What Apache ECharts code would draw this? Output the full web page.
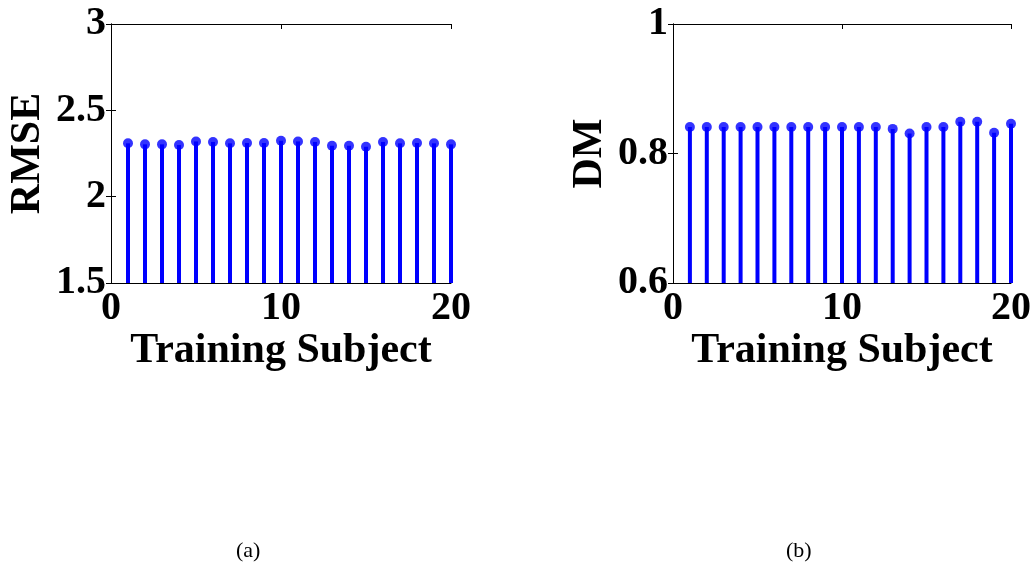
<!DOCTYPE html>
<html>
<head>
<meta charset="utf-8">
<title>RMSE and DM per training subject</title>
<script src="https://cdn.jsdelivr.net/npm/echarts@6/dist/echarts.min.js"></script>
<style>
  html, body { margin: 0; padding: 0; background: #fff; }
  #chart { width: 1034px; height: 574px; }
</style>
</head>
<body>
<div id="chart"></div>
<script>
// Training subjects 1..20
const subjects = [1, 2, 3, 4, 5, 6, 7, 8, 9, 10, 11, 12, 13, 14, 15, 16, 17, 18, 19, 20];

// (a) RMSE per training subject
const rmseValues = [2.309, 2.303, 2.303, 2.299, 2.320, 2.317, 2.309, 2.311, 2.311, 2.324,
                    2.320, 2.317, 2.295, 2.295, 2.289, 2.317, 2.309, 2.311, 2.309, 2.303];

// (b) DM per training subject
const dmValues = [0.841, 0.841, 0.841, 0.841, 0.841, 0.841, 0.841, 0.841, 0.841, 0.841,
                  0.841, 0.841, 0.838, 0.831, 0.841, 0.841, 0.849, 0.849, 0.832, 0.846];

const rmseTicks = { min: 1.5, max: 3, interval: 0.5 };
const dmTicks = { min: 0.6, max: 1, interval: 0.2 };
const subjectTicks = { min: 0, max: 20, interval: 10 };

const captions = ['(a)', '(b)'];
const yNames = ['RMSE', 'DM'];
const xName = 'Training Subject';

const FONT = '"Liberation Serif", "Times New Roman", serif';
const BLUE = '#0000ff';

const grids = [
  { left: 111, top: 24, width: 340, height: 259 },
  { left: 673, top: 24, width: 339, height: 259 }
];

function labelFmt(v) {
  // MATLAB-style labels: 1.5, 2, 2.5, 3 / 0.6, 0.8, 1
  return String(Math.round(v * 100) / 100);
}

const tickLabel = {
  fontFamily: FONT, fontWeight: 'bold', fontSize: 40, color: '#000'
};

function xAxes(gi) {
  return [
    {
      type: 'value', gridIndex: gi, position: 'bottom',
      min: subjectTicks.min, max: subjectTicks.max, interval: subjectTicks.interval,
      axisLine: { show: true, lineStyle: { color: '#000', width: 1 } },
      axisTick: { show: true, inside: true, length: 5, lineStyle: { color: '#000' } },
      axisLabel: Object.assign({ margin: 6, formatter: labelFmt }, tickLabel),
      splitLine: { show: false },
      name: xName, nameLocation: 'middle', nameGap: 41,
      nameTextStyle: { fontFamily: FONT, fontWeight: 'bold', fontSize: 42, color: '#000' }
    },
    {
      type: 'value', gridIndex: gi, position: 'top',
      min: subjectTicks.min, max: subjectTicks.max, interval: subjectTicks.interval,
      axisLine: { show: true, lineStyle: { color: '#000', width: 1 } },
      axisTick: { show: true, inside: true, length: 5, lineStyle: { color: '#000' } },
      axisLabel: { show: false }, splitLine: { show: false }
    }
  ];
}

function yAxes(gi, ticks, name) {
  return [
    {
      type: 'value', gridIndex: gi, position: 'left',
      min: ticks.min, max: ticks.max, interval: ticks.interval,
      axisLine: { show: true, lineStyle: { color: '#000', width: 1 } },
      axisTick: { show: true, inside: true, length: 5, lineStyle: { color: '#000' } },
      axisLabel: Object.assign({ margin: 5, formatter: labelFmt }, tickLabel),
      splitLine: { show: false },
      name: name, nameLocation: 'middle', nameGap: 62, nameRotate: 90,
      nameTextStyle: { fontFamily: FONT, fontWeight: 'bold', fontSize: 42, color: '#000' }
    },
    {
      type: 'value', gridIndex: gi, position: 'right',
      min: ticks.min, max: ticks.max, interval: ticks.interval,
      axisLine: { show: true, lineStyle: { color: '#000', width: 1 } },
      axisTick: { show: true, inside: true, length: 5, lineStyle: { color: '#000' } },
      axisLabel: { show: false }, splitLine: { show: false }
    }
  ];
}

function stemSeries(xi, yi, values) {
  const pts = subjects.map((s, i) => [s, values[i]]);
  return [
    {
      type: 'bar', xAxisIndex: xi, yAxisIndex: yi, data: pts,
      barWidth: 4, itemStyle: { color: BLUE }, clip: true, silent: true
    },
    {
      type: 'scatter', xAxisIndex: xi, yAxisIndex: yi, data: pts,
      symbol: 'circle', symbolSize: 10, itemStyle: { color: BLUE },
      clip: false, silent: true, z: 3
    }
  ];
}

const chart = echarts.init(document.getElementById('chart'), null, { renderer: 'canvas' });
chart.setOption({
  animation: false,
  backgroundColor: '#fff',
  grid: grids,
  xAxis: [...xAxes(0), ...xAxes(1)],
  yAxis: [...yAxes(0, rmseTicks, yNames[0]), ...yAxes(1, dmTicks, yNames[1])],
  series: [...stemSeries(0, 0, rmseValues), ...stemSeries(2, 2, dmValues)],
  graphic: [
    { type: 'text', left: 236, top: 540,
      style: { text: captions[0], font: '22px ' + FONT, fill: '#000' } },
    { type: 'text', left: 786, top: 540,
      style: { text: captions[1], font: '22px ' + FONT, fill: '#000' } }
  ]
});
</script>
</body>
</html>
